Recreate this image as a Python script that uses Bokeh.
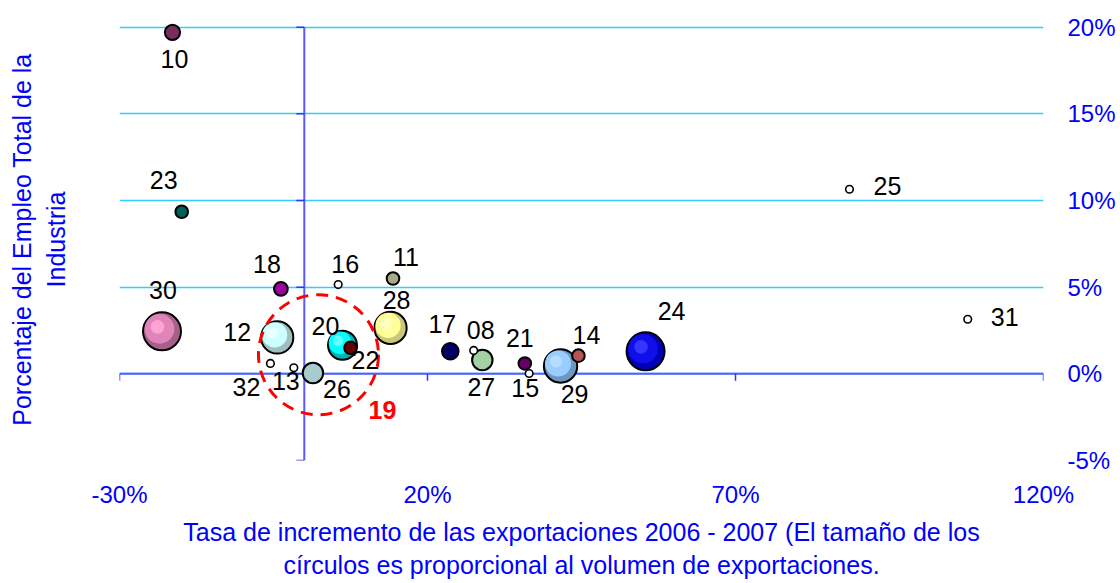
import numpy as np
from bokeh.plotting import figure
from bokeh.models import ColumnDataSource, FixedTicker, PrintfTickFormatter, Range1d, LinearAxis
from bokeh.core.properties import value
from bokeh.embed import file_html
from bokeh.resources import INLINE

# ---------------- data ----------------
sectores = ["10", "23", "18", "30", "12", "16", "11", "28", "20", "22", "32", "13",
            "26", "17", "08", "27", "21", "15", "29", "14", "24", "25", "31"]
tasa_exportaciones = [-21.4, -19.9, -3.8, -23.1, -4.4, 5.5, 14.4, 14.0, 6.2, 7.5, -5.5, -1.7,
                      1.4, 23.7, 27.5, 28.9, 35.8, 36.5, 41.6, 44.5, 55.4, 88.5, 107.7]
empleo_industria = [19.7, 9.35, 4.9, 2.45, 2.1, 5.15, 5.5, 2.65, 1.65, 1.5, 0.6, 0.35,
                    0.05, 1.3, 1.35, 0.8, 0.6, 0.02, 0.45, 1.05, 1.3, 10.65, 3.15]
volumen_exportaciones = [16, 11, 13, 100, 72, 4, 11, 72, 58, 11, 4, 4,
                         29, 19, 4, 29, 11, 4, 77, 11, 100, 4, 4]

x_ticks = [-30, 20, 70, 120]
y_ticks = [-5, 0, 5, 10, 15, 20]

grupo_texto = "19"
grupo_x = 2.3
grupo_y = 1.1

x_title = ("Tasa de incremento de las exportaciones 2006 - 2007 (El tamaño de los\n"
           "círculos es proporcional al volumen de exportaciones.")
y_title = "Porcentaje del Empleo Total de la\nIndustria"

# ---------------- styles ----------------
colores = {"10": "#7B2C5E", "23": "#00605C", "18": "#A000A0", "30": "#E085B8", "12": "#CCFFFF",
           "16": "#FFFFFF", "11": "#A9A98A", "28": "#FFFF99", "20": "#00FFFF", "22": "#660000",
           "32": "#FFFFFF", "13": "#FFFFFF", "26": "#A8CCCC", "17": "#000066", "08": "#FFFFFF",
           "27": "#A3D1A3", "21": "#660066", "15": "#FFFFFF", "29": "#99CCFF", "14": "#B35555",
           "24": "#0F0FEA", "25": "#FFFFFF", "31": "#FFFFFF"}
sombras = {"30": "#A8608A", "12": "#9DBFBF", "28": "#C8C878", "20": "#00B4B4",
           "29": "#6B97C2", "24": "#0000B4"}
brillos = {"30": "#FFA3D3", "12": "#E6FFFF", "28": "#FFFFC0", "20": "#60FFFF",
           "29": "#B8DCFF", "24": "#3535FF"}
# label offsets in screen px (dx right, dy down)
label_offsets = {"10": (2, 27), "23": (-18, -32), "18": (-14, -25), "30": (1, -41),
                 "12": (-40, -5), "16": (7, -21), "11": (13, -22), "28": (6, -28),
                 "20": (-17, -19), "22": (15, 12), "32": (-24, 24), "13": (-8, 13),
                 "26": (24, 16), "17": (-8, -27), "08": (7, -20), "27": (-1, 27),
                 "21": (-5, -25), "15": (-4, 15), "29": (14, 28), "14": (8, -21),
                 "24": (26, -40), "25": (38, -3), "31": (37, -2)}

FONT = "Liberation Sans"
BLUE = "#0000FF"
W, H = 1120, 583
BL, BR, BT, BB = 119, 77, 18, 123
X0, X1, Y0, Y1 = -30, 120, -5, 20.5
kx = (W - BL - BR) / (X1 - X0)
ky = (H - BT - BB) / (Y1 - Y0)

x = np.array(tasa_exportaciones, dtype=float)
y = np.array(empleo_industria, dtype=float)
vol = np.array(volumen_exportaciones, dtype=float)
diam = 38.0 * np.sqrt(vol / 100.0)

p = figure(width=W, height=H, x_range=Range1d(X0, X1), y_range=Range1d(Y0, Y1),
           output_backend="svg", toolbar_location=None, y_axis_location="right",
           min_border_left=BL, min_border_right=BR, min_border_top=BT, min_border_bottom=BB)
p.outline_line_color = None
p.background_fill_color = "white"
p.border_fill_color = "white"

bottom_ax = p.xaxis[0]
right_ax = p.yaxis[0]
left_ax = LinearAxis(ticker=FixedTicker(ticks=[]))
p.add_layout(left_ax, "left")

xt = FixedTicker(ticks=x_ticks)
yt = FixedTicker(ticks=y_ticks)
for ax, tk, so in ((bottom_ax, xt, 20), (right_ax, yt, 24), (left_ax, None, 0)):
    if tk is not None:
        ax.ticker = tk
        ax.formatter = PrintfTickFormatter(format="%d%%")
    ax.axis_line_color = None
    ax.major_tick_line_color = None
    ax.minor_tick_line_color = None
    ax.major_tick_out = 0
    ax.major_tick_in = 0
    ax.minor_tick_out = 0
    ax.major_label_standoff = so
    ax.major_label_text_font = FONT
    ax.major_label_text_font_size = "24px"
    ax.major_label_text_color = BLUE
    ax.axis_label_text_font = FONT
    ax.axis_label_text_font_size = "25px"
    ax.axis_label_text_font_style = "normal"
    ax.axis_label_text_color = BLUE

bottom_ax.axis_label = x_title
bottom_ax.axis_label_standoff = 7
left_ax.axis_label = y_title
left_ax.axis_label_standoff = 50

p.xgrid.grid_line_color = None
p.ygrid.ticker = yt
p.ygrid.grid_line_color = "#33CCFF"
p.ygrid.grid_line_width = 1.5

# axis lines crossing at 0
AXC = "#5A5AFF"
p.segment(x0=[x_ticks[0]], y0=[0], x1=[x_ticks[-1]], y1=[0], line_color=AXC, line_width=2)
p.segment(x0=[0], y0=[y_ticks[0]], x1=[0], y1=[y_ticks[-1]], line_color=AXC, line_width=2)
p.ray(x=[0] * len(y_ticks), y=y_ticks, length=8, length_units="screen", angle=np.pi,
      line_color="#3333FF", line_width=1.5)
p.ray(x=x_ticks, y=[0] * len(x_ticks), length=7, length_units="screen", angle=-np.pi / 2,
      line_color="#3333FF", line_width=1.5)

# big shaded bubbles
big = [i for i, s in enumerate(sectores) if s in sombras]
small = [i for i, s in enumerate(sectores) if s not in sombras]
small.sort(key=lambda i: -vol[i])

src_big = ColumnDataSource(dict(
    x=x[big], y=y[big], d=diam[big],
    xm=x[big] - 2.5 / kx, ym=y[big] + 2.5 / ky, dm=diam[big] * 0.78,
    xh=x[big] - 4.5 / kx, yh=y[big] + 4.5 / ky, dh=diam[big] * 0.36,
    shade=[sombras[sectores[i]] for i in big],
    mid=[colores[sectores[i]] for i in big],
    light=[brillos[sectores[i]] for i in big],
))
p.scatter("x", "y", size="d", source=src_big, fill_color="shade", line_color="black", line_width=2)
p.scatter("xm", "ym", size="dm", source=src_big, fill_color="mid", line_color=None)
p.scatter("xh", "yh", size="dh", source=src_big, fill_color="light", line_color=None)

src_small = ColumnDataSource(dict(
    x=x[small], y=y[small], d=diam[small],
    c=[colores[sectores[i]] for i in small],
    lw=[1.6 if colores[sectores[i]] == "#FFFFFF" else 2.0 for i in small],
))
p.scatter("x", "y", size="d", source=src_small, fill_color="c", line_color="black", line_width="lw")

# red dashed group circle
p.scatter(x=[grupo_x], y=[grupo_y], size=120, fill_color=None, line_color="#FF0000",
          line_width=3, line_dash="12 8")

# data labels
src_lab = ColumnDataSource(dict(
    x=x, y=y, t=sectores,
    dx=[label_offsets[s][0] for s in sectores],
    dy=[label_offsets[s][1] for s in sectores],
))
p.text("x", "y", text="t", x_offset="dx", y_offset="dy", source=src_lab,
       text_font=value(FONT), text_font_size="25px", text_color="black",
       text_align="center", text_baseline="middle")
p.text(x=[grupo_x], y=[grupo_y], text=[grupo_texto], x_offset=64, y_offset=55,
       text_font=value(FONT), text_font_size="25px", text_font_style="bold",
       text_color="#FF0000", text_align="center", text_baseline="middle")

open("out.html", "w").write(file_html(p, INLINE))
